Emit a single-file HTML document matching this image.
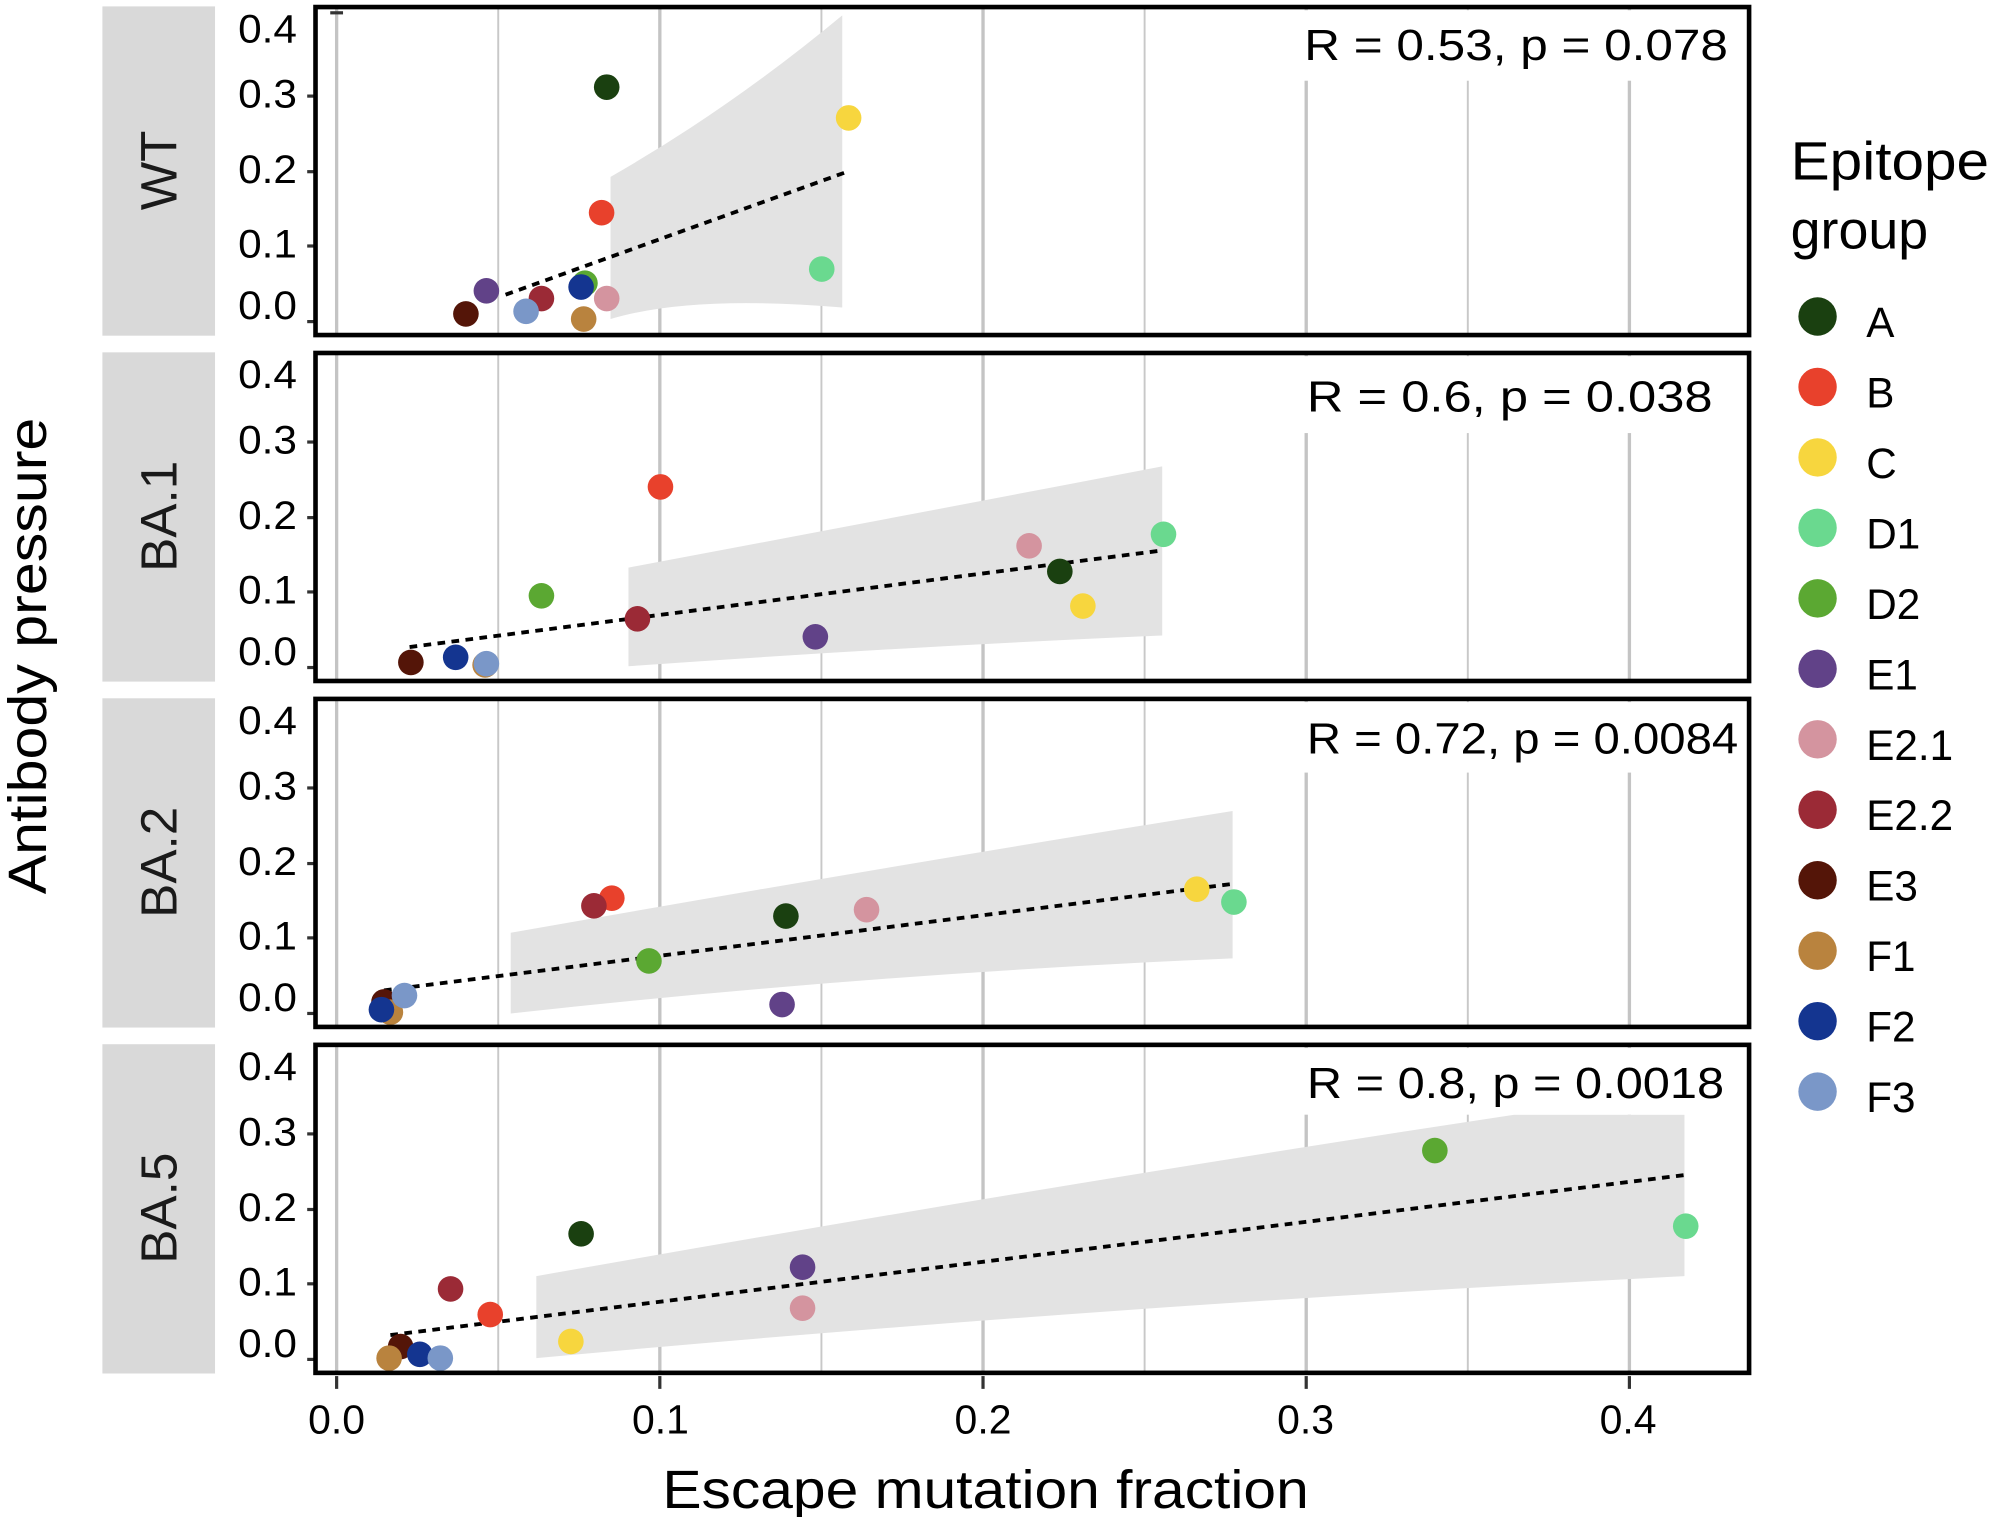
<!DOCTYPE html>
<html><head><meta charset="utf-8"><style>html,body{margin:0;padding:0;background:#fff}svg{display:block}text{font-family:"Liberation Sans",Arial,sans-serif}</style></head><body>
<svg width="2007" height="1517" viewBox="0 0 1568 1184" preserveAspectRatio="none" xmlns="http://www.w3.org/2000/svg">
<defs>
<g id="grid">
<line x1="263" x2="263" y1="0" y2="257" stroke="#c4c4c4" stroke-width="2.6"/>
<line x1="389.25" x2="389.25" y1="0" y2="257" stroke="#c8c8c8" stroke-width="1.5"/>
<line x1="515.5" x2="515.5" y1="0" y2="257" stroke="#c4c4c4" stroke-width="2.6"/>
<line x1="641.75" x2="641.75" y1="0" y2="257" stroke="#c8c8c8" stroke-width="1.5"/>
<line x1="768" x2="768" y1="0" y2="257" stroke="#c4c4c4" stroke-width="2.6"/>
<line x1="894.25" x2="894.25" y1="0" y2="257" stroke="#c8c8c8" stroke-width="1.5"/>
<line x1="1020.5" x2="1020.5" y1="0" y2="257" stroke="#c4c4c4" stroke-width="2.6"/>
<line x1="1146.75" x2="1146.75" y1="0" y2="257" stroke="#c8c8c8" stroke-width="1.5"/>
<line x1="1273" x2="1273" y1="0" y2="257" stroke="#c4c4c4" stroke-width="2.6"/>
</g>
<g id="yax" font-size="31" text-anchor="end" fill="#000">
<text x="232" y="28" textLength="46" lengthAdjust="spacingAndGlyphs">0.4</text><text x="232" y="79" textLength="46" lengthAdjust="spacingAndGlyphs">0.3</text><text x="232" y="138" textLength="46" lengthAdjust="spacingAndGlyphs">0.2</text><text x="232" y="196" textLength="46" lengthAdjust="spacingAndGlyphs">0.1</text><text x="232" y="244" textLength="46" lengthAdjust="spacingAndGlyphs">0.0</text>
<g stroke="#333" stroke-width="2.5"><line x1="240" x2="246" y1="70" y2="70"/><line x1="240" x2="246" y1="129" y2="129"/><line x1="240" x2="246" y1="187" y2="187"/><line x1="240" x2="246" y1="246" y2="246"/></g>
</g>
</defs>

<g fill="#d9d9d9"><rect x="80" y="5" width="88" height="257"/><rect x="80" y="275" width="88" height="257"/><rect x="80" y="545" width="88" height="257"/><rect x="80" y="815" width="88" height="257"/></g>
<g font-size="40" fill="#1a1a1a" text-anchor="middle">
<text transform="translate(138,133) rotate(-90)">WT</text>
<text transform="translate(138,403) rotate(-90)">BA.1</text>
<text transform="translate(138,673) rotate(-90)">BA.2</text>
<text transform="translate(138,943) rotate(-90)">BA.5</text>
</g>

<g transform="translate(0,5)">
<use href="#grid"/>
<path d="M477,133 Q570,80 658,7 L658,235 Q540,225 477,244 Z" fill="#e3e3e3"/>
<rect x="1005" y="3" width="359" height="55" fill="#fff"/>
<text x="1019" y="42" font-size="34" textLength="331" lengthAdjust="spacingAndGlyphs">R = 0.53, p = 0.078</text>
<line x1="395" y1="225" x2="662" y2="129" stroke="#000" stroke-width="3" stroke-dasharray="6,5"/>
<use href="#yax"/>
<line x1="258" x2="268" y1="5" y2="5" stroke="#333" stroke-width="2.5"/>
</g>
<g>
<circle cx="474" cy="68" r="10" fill="#1a4010"/><circle cx="663" cy="92" r="10" fill="#f7d63e"/><circle cx="470" cy="166" r="10" fill="#e8412c"/><circle cx="642" cy="210" r="10" fill="#6ad98f"/><circle cx="457" cy="221" r="10" fill="#5ba832"/><circle cx="454" cy="224" r="10" fill="#143590"/><circle cx="380" cy="227" r="10" fill="#614288"/><circle cx="423" cy="233" r="10" fill="#9b2a36"/><circle cx="474" cy="233" r="10" fill="#d4949f"/><circle cx="411" cy="243" r="10" fill="#7a97c8"/><circle cx="364" cy="245" r="10" fill="#541508"/><circle cx="456" cy="249" r="10" fill="#b9833e"/>
</g>

<g transform="translate(0,275)">
<use href="#grid"/>
<path d="M491,168 Q720,125 908,89 L908,221 Q700,230 491,245 Z" fill="#e3e3e3"/>
<rect x="1005" y="3" width="359" height="60" fill="#fff"/>
<text x="1021" y="46" font-size="34" textLength="317" lengthAdjust="spacingAndGlyphs">R = 0.6, p = 0.038</text>
<line x1="320" y1="230" x2="905" y2="155" stroke="#000" stroke-width="3" stroke-dasharray="6,5"/>
<use href="#yax"/>
</g>
<g>
<circle cx="516" cy="380" r="10" fill="#e8412c"/><circle cx="909" cy="417" r="10" fill="#6ad98f"/><circle cx="804" cy="426" r="10" fill="#d4949f"/><circle cx="828" cy="446" r="10" fill="#1a4010"/><circle cx="846" cy="473" r="10" fill="#f7d63e"/><circle cx="423" cy="465" r="10" fill="#5ba832"/><circle cx="498" cy="483" r="10" fill="#9b2a36"/><circle cx="637" cy="497" r="10" fill="#614288"/><circle cx="321" cy="517" r="10" fill="#541508"/><circle cx="356" cy="513" r="10" fill="#143590"/><circle cx="379" cy="519" r="10" fill="#b9833e"/><circle cx="380" cy="518" r="10" fill="#7a97c8"/>
</g>

<g transform="translate(0,545)">
<use href="#grid"/>
<path d="M399,183 Q700,130 963,88 L963,203 Q680,215 399,246 Z" fill="#e3e3e3"/>
<rect x="1005" y="3" width="359" height="55" fill="#fff"/>
<text x="1021" y="43" font-size="34" textLength="337" lengthAdjust="spacingAndGlyphs">R = 0.72, p = 0.0084</text>
<line x1="300" y1="228" x2="962" y2="145" stroke="#000" stroke-width="3" stroke-dasharray="6,5"/>
<use href="#yax"/>
</g>
<g>
<circle cx="935" cy="694" r="10" fill="#f7d63e"/><circle cx="964" cy="704" r="10" fill="#6ad98f"/><circle cx="478" cy="701" r="10" fill="#e8412c"/><circle cx="464" cy="707" r="10" fill="#9b2a36"/><circle cx="614" cy="715" r="10" fill="#1a4010"/><circle cx="677" cy="710" r="10" fill="#d4949f"/><circle cx="507" cy="750" r="10" fill="#5ba832"/><circle cx="611" cy="784" r="10" fill="#614288"/><circle cx="300" cy="782" r="10" fill="#541508"/><circle cx="305" cy="790" r="10" fill="#b9833e"/><circle cx="298" cy="788" r="10" fill="#143590"/><circle cx="316" cy="777" r="10" fill="#7a97c8"/>
</g>

<g transform="translate(0,815)">
<use href="#grid"/>
<path d="M419,181 Q820,110 1183,55 L1316,55 L1316,181 Q850,205 419,245 Z" fill="#e3e3e3"/>
<rect x="1005" y="3" width="359" height="52" fill="#fff"/>
<text x="1021" y="42" font-size="34" textLength="326" lengthAdjust="spacingAndGlyphs">R = 0.8, p = 0.0018</text>
<line x1="305" y1="227" x2="1317" y2="102" stroke="#000" stroke-width="3" stroke-dasharray="6,5"/>
<use href="#yax"/>
</g>
<g>
<circle cx="1121" cy="898" r="10" fill="#5ba832"/><circle cx="1317" cy="957" r="10" fill="#6ad98f"/><circle cx="454" cy="963" r="10" fill="#1a4010"/><circle cx="627" cy="989" r="10" fill="#614288"/><circle cx="627" cy="1021" r="10" fill="#d4949f"/><circle cx="352" cy="1006" r="10" fill="#9b2a36"/><circle cx="383" cy="1026" r="10" fill="#e8412c"/><circle cx="446" cy="1047" r="10" fill="#f7d63e"/><circle cx="313" cy="1051" r="10" fill="#541508"/><circle cx="328" cy="1057" r="10" fill="#143590"/><circle cx="344" cy="1060" r="10" fill="#7a97c8"/><circle cx="304" cy="1060" r="10" fill="#b9833e"/>
</g>

<g fill="none" stroke="#000" stroke-width="3.6">
<rect x="246.5" y="5.5" width="1120" height="256"/>
<rect x="246.5" y="275.5" width="1120" height="256"/>
<rect x="246.5" y="545.5" width="1120" height="256"/>
<rect x="246.5" y="815.5" width="1120" height="256"/>
</g>

<g stroke="#333" stroke-width="2.5"><line x1="263" x2="263" y1="1074" y2="1084"/><line x1="515.5" x2="515.5" y1="1074" y2="1084"/><line x1="768" x2="768" y1="1074" y2="1084"/><line x1="1020.5" x2="1020.5" y1="1074" y2="1084"/><line x1="1273" x2="1273" y1="1074" y2="1084"/></g>
<g font-size="32" text-anchor="middle"><text x="263" y="1119">0.0</text><text x="516" y="1119">0.1</text><text x="768" y="1119">0.2</text><text x="1020" y="1119">0.3</text><text x="1272" y="1119">0.4</text></g>
<text x="770" y="1177" font-size="42" text-anchor="middle" textLength="505" lengthAdjust="spacingAndGlyphs">Escape mutation fraction</text>
<text transform="translate(36,512) rotate(-90)" font-size="42" text-anchor="middle" textLength="372" lengthAdjust="spacingAndGlyphs">Antibody pressure</text>

<text x="1399" y="140" font-size="42" textLength="155" lengthAdjust="spacingAndGlyphs">Epitope</text>
<text x="1399" y="194" font-size="42">group</text>
<g font-size="33">
<circle cx="1420" cy="247" r="15" fill="#1a4010"/><text x="1458" y="263">A</text>
<circle cx="1420" cy="302" r="15" fill="#e8412c"/><text x="1458" y="318">B</text>
<circle cx="1420" cy="357" r="15" fill="#f7d63e"/><text x="1458" y="373">C</text>
<circle cx="1420" cy="412" r="15" fill="#6ad98f"/><text x="1458" y="428">D1</text>
<circle cx="1420" cy="467" r="15" fill="#5ba832"/><text x="1458" y="483">D2</text>
<circle cx="1420" cy="522" r="15" fill="#614288"/><text x="1458" y="538">E1</text>
<circle cx="1420" cy="577" r="15" fill="#d4949f"/><text x="1458" y="593">E2.1</text>
<circle cx="1420" cy="632" r="15" fill="#9b2a36"/><text x="1458" y="648">E2.2</text>
<circle cx="1420" cy="687" r="15" fill="#541508"/><text x="1458" y="703">E3</text>
<circle cx="1420" cy="742" r="15" fill="#b9833e"/><text x="1458" y="758">F1</text>
<circle cx="1420" cy="797" r="15" fill="#143590"/><text x="1458" y="813">F2</text>
<circle cx="1420" cy="852" r="15" fill="#7a97c8"/><text x="1458" y="868">F3</text>
</g>
</svg>
</body></html>
